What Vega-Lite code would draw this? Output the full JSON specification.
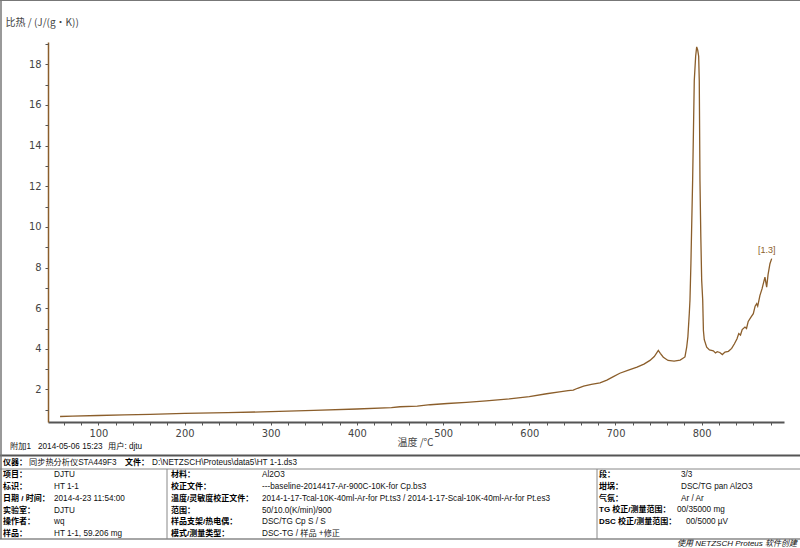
{
  "$schema": "https://vega.github.io/schema/vega-lite/v6.json",
  "width": 736,
  "height": 380,
  "autosize": {"type": "none"},
  "padding": {"left": 48, "top": 42, "right": 16, "bottom": 126},
  "background": "white",
  "config": {"view": {"stroke": null}},
  "datasets": {
    "curve": [
      {"T": 55.6, "cp": 0.67}, {"T": 70, "cp": 0.69}, {"T": 100, "cp": 0.72}, {"T": 130, "cp": 0.75},
      {"T": 160, "cp": 0.78}, {"T": 200, "cp": 0.82}, {"T": 250, "cp": 0.86}, {"T": 300, "cp": 0.91},
      {"T": 350, "cp": 0.97}, {"T": 400, "cp": 1.04}, {"T": 440, "cp": 1.11}, {"T": 450, "cp": 1.15},
      {"T": 470, "cp": 1.18}, {"T": 485, "cp": 1.25}, {"T": 505, "cp": 1.31}, {"T": 527, "cp": 1.37},
      {"T": 550, "cp": 1.44}, {"T": 577, "cp": 1.54}, {"T": 600, "cp": 1.65}, {"T": 620, "cp": 1.79},
      {"T": 635, "cp": 1.88}, {"T": 645, "cp": 1.94}, {"T": 651, "cp": 1.97}, {"T": 656, "cp": 2.06},
      {"T": 663, "cp": 2.16}, {"T": 672, "cp": 2.25}, {"T": 682, "cp": 2.33}, {"T": 690, "cp": 2.46},
      {"T": 697, "cp": 2.62}, {"T": 705, "cp": 2.8}, {"T": 715, "cp": 2.95}, {"T": 725, "cp": 3.1},
      {"T": 733, "cp": 3.25}, {"T": 740, "cp": 3.43}, {"T": 745, "cp": 3.62}, {"T": 749.7, "cp": 3.92},
      {"T": 752, "cp": 3.78}, {"T": 755.5, "cp": 3.59}, {"T": 761, "cp": 3.43}, {"T": 768, "cp": 3.4},
      {"T": 775, "cp": 3.45}, {"T": 780.6, "cp": 3.6}, {"T": 782.6, "cp": 4.08}, {"T": 784, "cp": 4.6},
      {"T": 785.6, "cp": 5.73}, {"T": 786.4, "cp": 6.39}, {"T": 787.5, "cp": 8.19}, {"T": 789.5, "cp": 12.3},
      {"T": 791.4, "cp": 17.2}, {"T": 793, "cp": 18.4}, {"T": 794.2, "cp": 18.86}, {"T": 795.4, "cp": 18.7},
      {"T": 796.5, "cp": 18.4}, {"T": 797.2, "cp": 17.2}, {"T": 798, "cp": 12.3}, {"T": 799, "cp": 9.5},
      {"T": 800, "cp": 7.37}, {"T": 801.2, "cp": 6.39}, {"T": 802, "cp": 4.9}, {"T": 803, "cp": 4.45},
      {"T": 805.8, "cp": 4.08}, {"T": 809, "cp": 3.95}, {"T": 813.5, "cp": 3.9}, {"T": 816, "cp": 3.8},
      {"T": 818, "cp": 3.86}, {"T": 821, "cp": 3.82}, {"T": 824, "cp": 3.72}, {"T": 827, "cp": 3.84},
      {"T": 831, "cp": 3.88}, {"T": 834.8, "cp": 4.02}, {"T": 838, "cp": 4.25}, {"T": 841, "cp": 4.5},
      {"T": 843, "cp": 4.75}, {"T": 845, "cp": 4.68}, {"T": 847, "cp": 4.95}, {"T": 850.2, "cp": 5.07},
      {"T": 852, "cp": 5.0}, {"T": 854, "cp": 5.35}, {"T": 857, "cp": 5.55}, {"T": 859.9, "cp": 5.73},
      {"T": 862, "cp": 6.1}, {"T": 863.8, "cp": 6.22}, {"T": 865, "cp": 6.1}, {"T": 867.6, "cp": 6.63},
      {"T": 870, "cp": 6.95}, {"T": 873.4, "cp": 7.53}, {"T": 875.4, "cp": 7.04}, {"T": 877, "cp": 7.65},
      {"T": 879.2, "cp": 8.19}, {"T": 881.2, "cp": 8.44}
    ],
    "label": [{"T": 875.4, "cp": 8.88, "t": "[1.3]"}],
    "rules": [
      {"x": 0, "x2": 800, "y": 455.5, "y2": 455.5, "w": 2, "c": "#555555"},
      {"x": 0, "x2": 800, "y": 469, "y2": 469, "w": 1, "c": "#888888"},
      {"x": 0, "x2": 800, "y": 539, "y2": 539, "w": 1.5, "c": "#888888"},
      {"x": 167, "x2": 167, "y": 469, "y2": 539, "w": 1, "c": "#888888"},
      {"x": 597, "x2": 597, "y": 469, "y2": 539, "w": 1, "c": "#888888"},
      {"x": 1, "x2": 1, "y": 0, "y2": 539, "w": 1.5, "c": "#777777"},
      {"x": 0, "x2": 800, "y": 0.5, "y2": 0.5, "w": 1, "c": "#777777"}
    ],
    "table": [
      {"x": 10, "y": 446.5, "t": "附加1", "k": "n"},
      {"x": 38, "y": 446.5, "t": "2014-05-06 15:23", "k": "n"},
      {"x": 108, "y": 446.5, "t": "用户: djtu", "k": "n"},
      {"x": 3, "y": 463, "t": "仪器：", "k": "b"},
      {"x": 29, "y": 463, "t": "同步热分析仪STA449F3", "k": "n"},
      {"x": 125, "y": 463, "t": "文件：", "k": "b"},
      {"x": 152, "y": 463, "t": "D:\\NETZSCH\\Proteus\\data5\\HT  1-1.ds3", "k": "n"},
      {"x": 3, "y": 475, "t": "项目：", "k": "b"},
      {"x": 54, "y": 475, "t": "DJTU", "k": "n"},
      {"x": 3, "y": 487, "t": "标识：", "k": "b"},
      {"x": 54, "y": 487, "t": "HT  1-1", "k": "n"},
      {"x": 3, "y": 498.5, "t": "日期 / 时间：", "k": "b"},
      {"x": 54, "y": 498.5, "t": "2014-4-23 11:54:00", "k": "n"},
      {"x": 3, "y": 510.5, "t": "实验室：", "k": "b"},
      {"x": 54, "y": 510.5, "t": "DJTU", "k": "n"},
      {"x": 3, "y": 522, "t": "操作者：", "k": "b"},
      {"x": 54, "y": 522, "t": "wq", "k": "n"},
      {"x": 3, "y": 534, "t": "样品：", "k": "b"},
      {"x": 54, "y": 534, "t": "HT  1-1, 59.206 mg", "k": "n"},
      {"x": 171, "y": 475, "t": "材料：", "k": "b"},
      {"x": 262, "y": 475, "t": "Al2O3", "k": "n"},
      {"x": 171, "y": 487, "t": "校正文件：", "k": "b"},
      {"x": 262, "y": 487, "t": "---baseline-2014417-Ar-900C-10K-for Cp.bs3", "k": "n"},
      {"x": 171, "y": 498.5, "t": "温度/灵敏度校正文件：", "k": "b"},
      {"x": 262, "y": 498.5, "t": "2014-1-17-Tcal-10K-40ml-Ar-for Pt.ts3 / 2014-1-17-Scal-10K-40ml-Ar-for Pt.es3", "k": "n"},
      {"x": 171, "y": 510.5, "t": "范围：", "k": "b"},
      {"x": 262, "y": 510.5, "t": "50/10.0(K/min)/900", "k": "n"},
      {"x": 171, "y": 522, "t": "样品支架/热电偶：", "k": "b"},
      {"x": 262, "y": 522, "t": "DSC/TG Cp S / S", "k": "n"},
      {"x": 171, "y": 534, "t": "模式/测量类型：", "k": "b"},
      {"x": 262, "y": 534, "t": "DSC-TG / 样品 +修正", "k": "n"},
      {"x": 599, "y": 475, "t": "段：", "k": "b"},
      {"x": 681, "y": 475, "t": "3/3", "k": "n"},
      {"x": 599, "y": 487, "t": "坩埚：", "k": "b"},
      {"x": 681, "y": 487, "t": "DSC/TG pan Al2O3", "k": "n"},
      {"x": 599, "y": 498.5, "t": "气氛：", "k": "b"},
      {"x": 681, "y": 498.5, "t": "Ar / Ar", "k": "n"},
      {"x": 599, "y": 510, "t": "TG 校正/测量范围：", "k": "b"},
      {"x": 677, "y": 510, "t": "00/35000 mg", "k": "n"},
      {"x": 599, "y": 521.5, "t": "DSC 校正/测量范围：", "k": "b"},
      {"x": 686, "y": 521.5, "t": "00/5000 µV", "k": "n"},
      {"x": 797, "y": 543.5, "t": "使用 NETZSCH Proteus 软件创建", "k": "i"}
    ]
  },
  "layer": [
    {
      "layer": [
        {
          "data": {"name": "curve"},
          "mark": {"type": "line", "color": "#8b5e2b", "strokeWidth": 1.3, "interpolate": "linear"},
          "encoding": {
            "x": {
              "field": "T", "type": "quantitative",
              "scale": {"domain": [41.6, 895.5], "nice": false, "zero": false},
              "axis": {
                "orient": "bottom",
                "values": [100, 200, 300, 400, 500, 600, 700, 800],
                "labelOverlap": false,
                "labelFlush": false,
                "format": "d",
                "grid": false,
                "domainColor": "#555555", "domainWidth": 2,
                "tickColor": "#555555", "tickSize": 3, "tickWidth": 1,
                "labelFont": "Liberation Sans Narrow, DejaVu Sans Condensed, sans-serif",
                "labelFontSize": 11, "labelColor": "#444444", "labelPadding": 2,
                "title": "温度 /℃",
                "titleFont": "Noto Sans CJK SC", "titleFontSize": 10, "titleFontWeight": "normal",
                "titleColor": "#444444",
                "titleX": 367, "titleY": 20, "titleBaseline": "middle", "titleAlign": "center"
              }
            },
            "y": {
              "field": "cp", "type": "quantitative",
              "scale": {"domain": [0.4, 19.1], "nice": false, "zero": false},
              "axis": {
                "orient": "left",
                "values": [2, 4, 6, 8, 10, 12, 14, 16, 18],
                "labelOverlap": false,
                "labelFlush": false,
                "format": "d",
                "grid": false,
                "domainColor": "#8b5e2b", "domainWidth": 1.5,
                "tickColor": "#555555", "tickSize": 3, "tickWidth": 1,
                "labelFont": "Liberation Sans Narrow, DejaVu Sans Condensed, sans-serif",
                "labelFontSize": 11, "labelColor": "#444444", "labelPadding": 4,
                "title": "比热 / (J/(g•K))",
                "titleFont": "Noto Sans CJK SC", "titleFontSize": 10, "titleFontWeight": "normal",
                "titleColor": "#444444", "titleAngle": 0,
                "titleX": -43, "titleY": -20, "titleAlign": "left", "titleBaseline": "middle"
              }
            }
          }
        },
        {
          "data": {"name": "label"},
          "mark": {"type": "text", "color": "#8b5e2b", "fontSize": 9, "font": "Liberation Sans", "baseline": "middle", "align": "center"},
          "encoding": {
            "x": {
              "field": "T", "type": "quantitative",
              "axis": {
                "orient": "bottom",
                "values": [60, 80, 120, 140, 160, 180, 220, 240, 260, 280, 320, 340, 360, 380, 420, 440, 460, 480, 520, 540, 560, 580, 620, 640, 660, 680, 720, 740, 760, 780, 820, 840, 860, 880],
                "labels": false, "domain": false, "grid": false, "title": null,
                "tickColor": "#555555", "tickSize": 3, "tickWidth": 1
              }
            },
            "y": {
              "field": "cp", "type": "quantitative",
              "axis": {
                "orient": "left",
                "values": [1, 3, 5, 7, 9, 11, 13, 15, 17, 19],
                "labels": false, "domain": false, "grid": false, "title": null,
                "tickColor": "#555555", "tickSize": 3, "tickWidth": 1
              }
            },
            "text": {"field": "t"}
          }
        }
      ],
      "resolve": {"axis": {"x": "independent", "y": "independent"}}
    },
    {
      "data": {"name": "rules"},
      "mark": {"type": "rule"},
      "encoding": {
        "x": {"field": "x", "type": "quantitative", "scale": {"domain": [0, 800], "range": [-48, 752], "nice": false, "zero": false}, "axis": null},
        "x2": {"field": "x2"},
        "y": {"field": "y", "type": "quantitative", "scale": {"domain": [0, 548], "range": [-42, 506], "nice": false, "zero": false}, "axis": null},
        "y2": {"field": "y2"},
        "size": {"field": "w", "type": "quantitative", "scale": null, "legend": null},
        "color": {"field": "c", "type": "nominal", "scale": null, "legend": null}
      }
    },
    {
      "data": {"name": "table"},
      "transform": [{"filter": "datum.k == 'b'"}],
      "mark": {"type": "text", "align": "left", "baseline": "middle", "fontSize": 8, "fontWeight": "bold", "font": "Liberation Sans, Noto Sans CJK SC", "color": "#000000"},
      "encoding": {
        "x": {"field": "x", "type": "quantitative", "scale": {"domain": [0, 800], "range": [-48, 752], "nice": false, "zero": false}, "axis": null},
        "y": {"field": "y", "type": "quantitative", "scale": {"domain": [0, 548], "range": [-42, 506], "nice": false, "zero": false}, "axis": null},
        "text": {"field": "t"}
      }
    },
    {
      "data": {"name": "table"},
      "transform": [{"filter": "datum.k == 'n'"}],
      "mark": {"type": "text", "align": "left", "baseline": "middle", "fontSize": 8.2, "font": "Liberation Sans, Noto Sans CJK SC", "color": "#111111"},
      "encoding": {
        "x": {"field": "x", "type": "quantitative", "scale": {"domain": [0, 800], "range": [-48, 752], "nice": false, "zero": false}, "axis": null},
        "y": {"field": "y", "type": "quantitative", "scale": {"domain": [0, 548], "range": [-42, 506], "nice": false, "zero": false}, "axis": null},
        "text": {"field": "t"}
      }
    },
    {
      "data": {"name": "table"},
      "transform": [{"filter": "datum.k == 'i'"}],
      "mark": {"type": "text", "align": "right", "baseline": "middle", "fontSize": 8, "fontStyle": "italic", "font": "Liberation Sans, Noto Sans CJK SC", "color": "#111111"},
      "encoding": {
        "x": {"field": "x", "type": "quantitative", "scale": {"domain": [0, 800], "range": [-48, 752], "nice": false, "zero": false}, "axis": null},
        "y": {"field": "y", "type": "quantitative", "scale": {"domain": [0, 548], "range": [-42, 506], "nice": false, "zero": false}, "axis": null},
        "text": {"field": "t"}
      }
    }
  ],
  "resolve": {"scale": {"x": "independent", "y": "independent"}}
}
